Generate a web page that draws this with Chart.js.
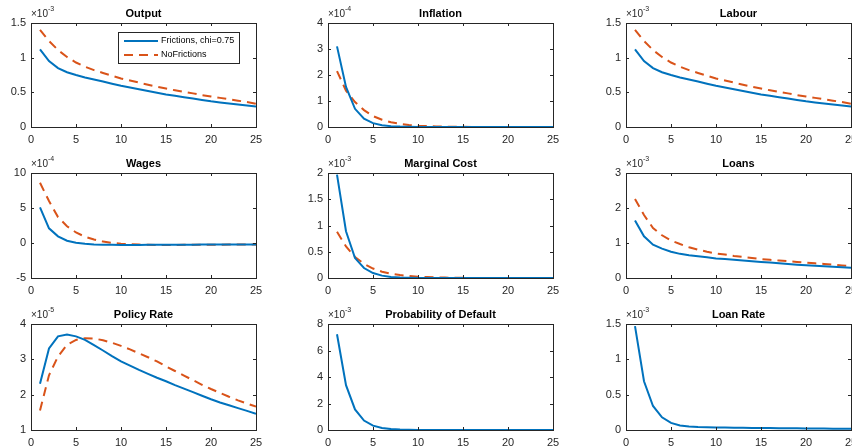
<!DOCTYPE html>
<html>
<head>
<meta charset="utf-8">
<script src="https://cdn.jsdelivr.net/npm/chart.js@4/dist/chart.umd.min.js"></script>
<style>
  html, body { margin: 0; padding: 0; background: #fff; overflow: hidden; }
  #fig { position: relative; width: 852px; height: 448px; }
  .panel { position: absolute; }
</style>
</head>
<body>
<div id="fig"></div>
<script>
// horizon (periods after the shock)
var periods = [1,2,3,4,5,6,7,8,9,10,11,12,13,14,15,16,17,18,19,20,21,22,23,24,25];
var xTicks = [0, 5, 10, 15, 20, 25];

// values are in units of the panel multiplier (x10^exp)
var outputFric = [1.12,0.95,0.85,0.79,0.75,0.715,0.685,0.655,0.625,0.595,0.57,0.545,0.52,0.495,0.47,0.45,0.43,0.41,0.39,0.37,0.355,0.34,0.325,0.31,0.295];
var outputNoFric = [1.40,1.24,1.11,1.01,0.93,0.87,0.82,0.78,0.74,0.70,0.67,0.64,0.61,0.58,0.555,0.53,0.505,0.485,0.46,0.44,0.42,0.40,0.38,0.36,0.335];

var inflFric = [3.1,1.54,0.7,0.32,0.15,0.07,0.03,0.015,0.008,0.004,0.002,0.001,0,0,0,0,0,0,0,0,0,0,0,0,0];
var inflNoFric = [2.15,1.4,0.96,0.65,0.42,0.28,0.18,0.12,0.08,0.05,0.035,0.02,0.015,0.01,0.006,0.004,0.002,0.001,0,0,0,0,0,0,0];

var labourFric = [1.12,0.95,0.85,0.79,0.75,0.715,0.685,0.655,0.625,0.595,0.57,0.545,0.52,0.495,0.47,0.45,0.43,0.41,0.39,0.37,0.355,0.34,0.325,0.31,0.295];
var labourNoFric = [1.40,1.24,1.11,1.01,0.93,0.87,0.82,0.78,0.74,0.70,0.67,0.64,0.61,0.58,0.555,0.53,0.505,0.485,0.46,0.44,0.42,0.40,0.38,0.36,0.335];

var wageFric = [5.1,2.1,0.95,0.33,0.05,-0.12,-0.2,-0.24,-0.26,-0.27,-0.27,-0.27,-0.26,-0.26,-0.25,-0.25,-0.24,-0.24,-0.23,-0.23,-0.22,-0.22,-0.21,-0.21,-0.2];
var wageNoFric = [8.6,6.0,3.7,2.4,1.5,0.9,0.5,0.2,0.02,-0.1,-0.18,-0.23,-0.26,-0.27,-0.27,-0.27,-0.26,-0.26,-0.25,-0.25,-0.24,-0.23,-0.23,-0.22,-0.22];

var mcFric = [1.97,0.89,0.38,0.19,0.095,0.045,0.02,0.01,0.005,0.002,0.001,0,0,0,0,0,0,0,0,0,0,0,0,0,0];
var mcNoFric = [0.88,0.6,0.4,0.27,0.18,0.12,0.08,0.055,0.037,0.025,0.017,0.011,0.008,0.005,0.003,0.002,0.001,0,0,0,0,0,0,0,0];

var loansFric = [1.64,1.19,0.95,0.84,0.75,0.69,0.65,0.62,0.59,0.56,0.54,0.52,0.50,0.48,0.46,0.44,0.42,0.40,0.38,0.365,0.35,0.335,0.32,0.305,0.29];
var loansNoFric = [2.26,1.8,1.43,1.22,1.07,0.97,0.88,0.81,0.75,0.70,0.67,0.63,0.60,0.57,0.54,0.52,0.50,0.48,0.46,0.44,0.42,0.40,0.38,0.36,0.34];

var policyFric = [2.31,3.31,3.65,3.70,3.65,3.55,3.40,3.25,3.09,2.94,2.82,2.70,2.59,2.48,2.38,2.27,2.17,2.07,1.97,1.87,1.78,1.70,1.62,1.54,1.46];
var policyNoFric = [1.55,2.55,3.08,3.41,3.55,3.60,3.59,3.54,3.47,3.38,3.28,3.17,3.06,2.94,2.80,2.67,2.54,2.41,2.28,2.16,2.05,1.94,1.84,1.75,1.66];

var pdFric = [7.23,3.38,1.55,0.71,0.33,0.15,0.07,0.03,0.015,0.007,0.003,0.001,0,0,0,0,0,0,0,0,0,0,0,0,0];

var loanRateFric = [1.47,0.69,0.34,0.18,0.10,0.065,0.05,0.042,0.038,0.036,0.034,0.032,0.031,0.03,0.028,0.027,0.026,0.024,0.023,0.022,0.021,0.02,0.018,0.017,0.016];

var seriesNames = ['Frictions, chi=0.75', 'NoFrictions'];
var blue = '#0072BD';
var orange = '#D95319';

var colLeft = [31, 328, 626];
var rowTop = [23, 173, 324];
var rowH = [104, 105, 106];
var plotW = 225;
var padL = 35, padT = 25, padR = 10, padB = 21;
var axisColor = '#262626';
var fontFam = '"Liberation Sans", Arial, Helvetica, sans-serif';

function pts(ys) {
  return periods.map(function (p, i) { return { x: p, y: ys[i] }; });
}

// box, inward ticks, title, exponent and optional legend, MATLAB style
var matlabAxes = {
  id: 'matlabAxes',
  afterDraw: function (chart, args, opts) {
    var c = chart.ctx, a = chart.chartArea;
    var xs = chart.scales.x, ys = chart.scales.y;
    c.save();
    c.strokeStyle = axisColor;
    c.lineWidth = 1;
    c.strokeRect(Math.round(a.left) + 0.5, Math.round(a.top) + 0.5, Math.round(a.right - a.left), Math.round(a.bottom - a.top));
    c.beginPath();
    xs.ticks.forEach(function (t) {
      var px = Math.round(xs.getPixelForValue(t.value)) + 0.5;
      c.moveTo(px, a.bottom); c.lineTo(px, a.bottom - 3);
      c.moveTo(px, a.top); c.lineTo(px, a.top + 3);
    });
    ys.ticks.forEach(function (t) {
      var py = Math.round(ys.getPixelForValue(t.value)) + 0.5;
      c.moveTo(a.left, py); c.lineTo(a.left + 3, py);
      c.moveTo(a.right, py); c.lineTo(a.right - 3, py);
    });
    c.stroke();

    c.fillStyle = '#000';
    c.font = 'bold 11px ' + fontFam;
    c.textAlign = 'center';
    c.textBaseline = 'alphabetic';
    c.fillText(opts.title, (a.left + a.right) / 2, a.top - 6);

    c.fillStyle = axisColor;
    c.textAlign = 'left';
    c.font = '10px ' + fontFam;
    var base = '\u00d710';
    c.fillText(base, a.left, a.top - 6);
    var w = c.measureText(base).width;
    c.font = '7px ' + fontFam;
    c.fillText(String(opts.exp), a.left + w, a.top - 12);

    if (opts.legend) {
      var lx = a.left + 87, ly = a.top + 9, lw = 121, lh = 31;
      c.fillStyle = '#fff';
      c.fillRect(lx, ly, lw, lh);
      c.strokeStyle = axisColor;
      c.strokeRect(lx + 0.5, ly + 0.5, lw, lh);
      chart.data.datasets.forEach(function (ds, i) {
        var yy = ly + 9 + i * 14;
        c.strokeStyle = ds.borderColor;
        c.lineWidth = 2;
        c.setLineDash(ds.borderDash || []);
        c.beginPath();
        c.moveTo(lx + 6, yy); c.lineTo(lx + 40, yy);
        c.stroke();
        c.setLineDash([]);
        c.fillStyle = '#000';
        c.font = '9px ' + fontFam;
        c.textBaseline = 'middle';
        c.fillText(ds.label, lx + 43, yy);
      });
    }
    c.restore();
  }
};

function fmt(v) {
  return String(Number(Number(v).toFixed(2)));
}

function makePanel(row, col, title, exp, yMin, yMax, yStep, fric, noFric, legend) {
  var W = plotW + padL + padR, H = rowH[row] + padT + padB;
  var div = document.createElement('div');
  div.className = 'panel';
  div.style.left = (colLeft[col] - padL) + 'px';
  div.style.top = (rowTop[row] - padT) + 'px';
  var cv = document.createElement('canvas');
  cv.width = W; cv.height = H;
  cv.style.width = W + 'px'; cv.style.height = H + 'px';
  div.appendChild(cv);
  document.getElementById('fig').appendChild(div);

  var datasets = [{
    label: seriesNames[0], data: pts(fric), borderColor: blue, borderWidth: 2,
    pointRadius: 0, fill: false, tension: 0
  }];
  if (noFric) {
    datasets.push({
      label: seriesNames[1], data: pts(noFric), borderColor: orange, borderWidth: 2,
      borderDash: [9, 6], pointRadius: 0, fill: false, tension: 0
    });
  }

  new Chart(cv, {
    type: 'line',
    data: { datasets: datasets },
    plugins: [matlabAxes],
    options: {
      responsive: false,
      animation: false,
      layout: { padding: { top: padT, right: padR, left: 0, bottom: 0 } },
      plugins: {
        legend: { display: false },
        tooltip: { enabled: false },
        matlabAxes: { title: title, exp: exp, legend: legend }
      },
      scales: {
        x: {
          type: 'linear', min: 0, max: 25,
          afterBuildTicks: function (s) { s.ticks = xTicks.map(function (v) { return { value: v }; }); },
          afterFit: function (s) { s.height = padB; s.paddingLeft = 0; s.paddingRight = 0; },
          grid: { display: false, drawTicks: false },
          border: { display: false },
          ticks: { color: axisColor, padding: 6, maxRotation: 0, font: { family: fontFam, size: 11 } }
        },
        y: {
          min: yMin, max: yMax,
          afterFit: function (s) { s.width = padL; s.paddingTop = 0; s.paddingBottom = 0; },
          grid: { display: false, drawTicks: false },
          border: { display: false },
          ticks: { stepSize: yStep, color: axisColor, padding: 5, font: { family: fontFam, size: 11 },
                   callback: function (v) { return fmt(v); } }
        }
      }
    }
  });
}

makePanel(0, 0, 'Output', -3, 0, 1.5, 0.5, outputFric, outputNoFric, true);
makePanel(0, 1, 'Inflation', -4, 0, 4, 1, inflFric, inflNoFric, false);
makePanel(0, 2, 'Labour', -3, 0, 1.5, 0.5, labourFric, labourNoFric, false);
makePanel(1, 0, 'Wages', -4, -5, 10, 5, wageFric, wageNoFric, false);
makePanel(1, 1, 'Marginal Cost', -3, 0, 2, 0.5, mcFric, mcNoFric, false);
makePanel(1, 2, 'Loans', -3, 0, 3, 1, loansFric, loansNoFric, false);
makePanel(2, 0, 'Policy Rate', -5, 1, 4, 1, policyFric, policyNoFric, false);
makePanel(2, 1, 'Probability of Default', -3, 0, 8, 2, pdFric, null, false);
makePanel(2, 2, 'Loan Rate', -3, 0, 1.5, 0.5, loanRateFric, null, false);
</script>
</body>
</html>
